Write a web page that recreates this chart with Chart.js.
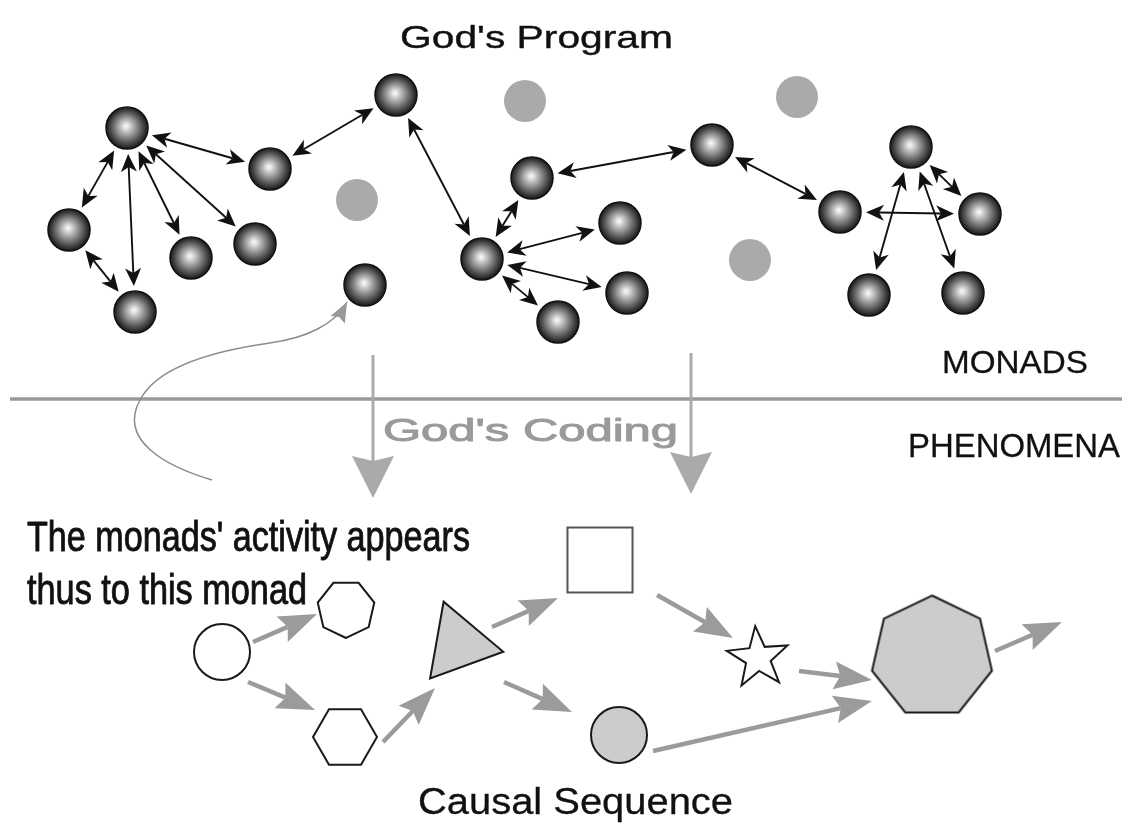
<!DOCTYPE html>
<html lang="en">
<head>
  <meta charset="UTF-8">
  <title>God's Program</title>
  <script src="https://cdn.jsdelivr.net/npm/chart.js@4"></script>
  <style>
    html, body { margin: 0; padding: 0; background: #fff; overflow: hidden; }
    #wrap { width: 1133px; height: 825px; }
  </style>
</head>
<body>
<div id="wrap"><canvas id="monads" width="1133" height="825"></canvas></div>
<script>
// monads in the upper realm (A..S)
const monadX = [127, 270, 396, 69, 191, 255, 135, 365, 532, 482, 620, 627, 558, 712, 840, 911, 980, 869, 963];
const monadY = [128, 169, 95, 230, 258, 244, 312, 285, 178, 259, 223, 293, 322, 145, 212, 147, 214, 295, 293];

// two-way links between monads (indexes into the arrays above)
const linkFrom = [0, 1, 2, 0, 0, 0, 0, 3, 8, 8, 9, 9, 9, 13, 14, 15, 15, 15];
const linkTo   = [1, 2, 9, 3, 6, 4, 5, 6, 9, 13, 10, 11, 12, 14, 16, 17, 18, 16];

// pale, unlinked monads
const ghostX = [525, 797, 357, 750];
const ghostY = [101, 97, 200, 260];

// phenomena shapes of the causal sequence
const shapeNames = ['circle', 'small heptagon', 'hexagon', 'triangle', 'square', 'star', 'disc', 'heptagon'];
const shapeX = [222, 346, 345, 459, 600, 758, 619, 932];
const shapeY = [652, 609, 737, 644, 560, 658, 735, 657];

// causal arrows between the shapes
const flowX0 = [253, 248, 383, 492, 504, 657, 799, 653, 995];
const flowY0 = [642, 682, 742, 627, 682, 595, 671, 751, 651];
const flowX1 = [317, 315, 435, 558, 572, 733, 872, 872, 1062];
const flowY1 = [614, 710, 688, 598, 712, 638, 680, 701, 622];

// "God's Coding" arrows going down through the divider
const codingX = [373, 691];
const codingTop = [355, 353];
const codingTip = [498, 494];
const dividerY = 399;

// thin curved arrow from the caption up to one monad (bezier points)
const curveX = [212, 165, 118, 140, 158, 220, 270, 305, 335, 347];
const curveY = [480, 466, 440, 400, 365, 350, 343, 338, 325, 302];

const labels = [
  { text: "God's Program", x: 400, y: 48, w: 273, size: 32, color: '#111', bold: 0.4 },
  { text: 'MONADS', x: 942, y: 373, w: 146, size: 32, color: '#111', bold: 0.3 },
  { text: 'PHENOMENA', x: 908, y: 457, w: 212, size: 33, color: '#111', bold: 0.3 },
  { text: "God's Coding", x: 383, y: 441, w: 295, size: 32, color: '#9a9a9a', bold: 1 },
  { text: "The monads' activity appears", x: 27, y: 551, w: 443, size: 43, color: '#111', bold: 0.9 },
  { text: 'thus to this monad', x: 27, y: 604, w: 280, size: 43, color: '#111', bold: 0.9 },
  { text: 'Causal Sequence', x: 418, y: 814, w: 315, size: 36, color: '#111', bold: 0.3 }
];

const shapeStyles = [
  { kind: 'circle', r: 28, fill: '#fff' },
  { kind: 'poly', n: 7, r: 29, rot: 90, fill: '#fff' },
  { kind: 'poly', n: 6, r: 32, rot: 0, fill: '#fff' },
  { kind: 'poly', n: 3, r: 45, rot: 10, fill: '#cccccc' },
  { kind: 'poly', n: 4, r: 46, rot: 45, fill: '#fff', stroke: '#555' },
  { kind: 'star', r: 32, inner: 13, rot: -95, fill: '#fff' },
  { kind: 'circle', r: 28, fill: '#cccccc' },
  { kind: 'poly', n: 7, r: 61.5, rot: -90, fill: '#cccccc' }
];

const FONT = '"Liberation Sans", Arial, Helvetica, sans-serif';

function makeSphere(r) {
  const c = document.createElement('canvas');
  c.width = c.height = 2 * r + 4;
  const g = c.getContext('2d');
  const m = r + 2;
  const grad = g.createRadialGradient(m - 1, m - 2, 1, m, m, r);
  grad.addColorStop(0, '#f4f4f4');
  grad.addColorStop(0.3, '#b0b0b0');
  grad.addColorStop(0.7, '#575757');
  grad.addColorStop(1, '#181818');
  g.fillStyle = grad;
  g.beginPath();
  g.arc(m, m, r, 0, Math.PI * 2);
  g.fill();
  g.lineWidth = 1.5;
  g.strokeStyle = '#111';
  g.stroke();
  return c;
}

function makeShape(s) {
  const c = document.createElement('canvas');
  c.width = c.height = Math.ceil(2 * s.r + 6);
  const g = c.getContext('2d');
  const m = c.width / 2;
  g.beginPath();
  if (s.kind === 'circle') {
    g.arc(m, m, s.r, 0, Math.PI * 2);
  } else if (s.kind === 'star') {
    for (let k = 0; k < 10; k++) {
      const a = (s.rot + k * 36) * Math.PI / 180;
      const rr = k % 2 ? s.inner : s.r;
      g.lineTo(m + rr * Math.cos(a), m + rr * Math.sin(a));
    }
    g.closePath();
  } else {
    for (let k = 0; k < s.n; k++) {
      const a = (s.rot + k * 360 / s.n) * Math.PI / 180;
      g.lineTo(m + s.r * Math.cos(a), m + s.r * Math.sin(a));
    }
    g.closePath();
  }
  g.fillStyle = s.fill;
  g.fill();
  g.lineWidth = 2;
  g.lineJoin = 'miter';
  g.strokeStyle = s.stroke || '#1a1a1a';
  g.stroke();
  return c;
}

function head(ctx, x0, y0, x1, y1, len, half, notch) {
  const a = Math.atan2(y1 - y0, x1 - x0);
  ctx.save();
  ctx.translate(x1, y1);
  ctx.rotate(a);
  ctx.beginPath();
  ctx.moveTo(0, 0);
  ctx.lineTo(-len, -half);
  ctx.lineTo(-len + notch, 0);
  ctx.lineTo(-len, half);
  ctx.closePath();
  ctx.fill();
  ctx.restore();
}

function arrow(ctx, x0, y0, x1, y1, o) {
  const d = Math.hypot(x1 - x0, y1 - y0);
  const ux = (x1 - x0) / d, uy = (y1 - y0) / d;
  const back = o.len - o.notch;
  const sx = o.both ? x0 + ux * back : x0, sy = o.both ? y0 + uy * back : y0;
  ctx.beginPath();
  ctx.moveTo(sx, sy);
  ctx.lineTo(x1 - ux * back, y1 - uy * back);
  ctx.stroke();
  head(ctx, x0, y0, x1, y1, o.len, o.half, o.notch);
  if (o.both) head(ctx, x1, y1, x0, y0, o.len, o.half, o.notch);
}

const diagramPlugin = {
  id: 'diagram',
  beforeDatasetsDraw(chart) {
    const ctx = chart.ctx;
    const X = v => chart.scales.x.getPixelForValue(v);
    const Y = v => chart.scales.y.getPixelForValue(v);
    ctx.save();
    // divider between monads and phenomena
    ctx.strokeStyle = '#999';
    ctx.lineWidth = 3.5;
    ctx.beginPath();
    ctx.moveTo(X(10), Y(dividerY));
    ctx.lineTo(X(1122), Y(dividerY));
    ctx.stroke();
    // God's coding arrows
    ctx.strokeStyle = '#aaa';
    ctx.fillStyle = '#aaa';
    ctx.lineWidth = 3;
    codingX.forEach((x, i) => {
      arrow(ctx, X(x), Y(codingTop[i]), X(x), Y(codingTip[i]), { len: 42, half: 21, notch: 5 });
    });
    ctx.restore();
  },
  afterDatasetsDraw(chart) {
    const ctx = chart.ctx;
    const X = v => chart.scales.x.getPixelForValue(v);
    const Y = v => chart.scales.y.getPixelForValue(v);
    ctx.save();
    // links between monads, trimmed to leave a gap around each sphere
    ctx.strokeStyle = '#111';
    ctx.fillStyle = '#111';
    ctx.lineWidth = 1.9;
    linkFrom.forEach((a, i) => {
      const b = linkTo[i];
      const ax = X(monadX[a]), ay = Y(monadY[a]);
      const bx = X(monadX[b]), by = Y(monadY[b]);
      const d = Math.hypot(bx - ax, by - ay);
      const ux = (bx - ax) / d, uy = (by - ay) / d;
      const gap = 26;
      arrow(ctx, ax + ux * gap, ay + uy * gap, bx - ux * gap, by - uy * gap,
        { len: 18, half: 8, notch: 5, both: true });
    });
    // causal arrows
    ctx.strokeStyle = '#9b9b9b';
    ctx.fillStyle = '#9b9b9b';
    ctx.lineWidth = 4.5;
    flowX0.forEach((x, i) => {
      arrow(ctx, X(x), Y(flowY0[i]), X(flowX1[i]), Y(flowY1[i]), { len: 38, half: 14, notch: 6 });
    });
    // curved pointer
    ctx.strokeStyle = '#8c8c8c';
    ctx.fillStyle = '#999';
    ctx.lineWidth = 1.5;
    ctx.beginPath();
    ctx.moveTo(X(curveX[0]), Y(curveY[0]));
    for (let k = 1; k + 2 < curveX.length; k += 3) {
      ctx.bezierCurveTo(X(curveX[k]), Y(curveY[k]), X(curveX[k + 1]), Y(curveY[k + 1]),
        X(curveX[k + 2]), Y(curveY[k + 2]));
    }
    ctx.stroke();
    const n = curveX.length;
    head(ctx, X(curveX[n - 2]), Y(curveY[n - 2]), X(curveX[n - 1]), Y(curveY[n - 1]), 20, 8, 3);
    // texts
    ctx.textAlign = 'left';
    ctx.textBaseline = 'alphabetic';
    labels.forEach(l => {
      ctx.font = l.size + 'px ' + FONT;
      const w = ctx.measureText(l.text).width;
      ctx.save();
      ctx.translate(X(l.x), Y(l.y));
      ctx.scale(l.w / w, 1);
      ctx.fillStyle = l.color;
      ctx.fillText(l.text, 0, 0);
      if (l.bold) {
        ctx.strokeStyle = l.color;
        ctx.lineWidth = l.bold;
        ctx.lineJoin = 'round';
        ctx.strokeText(l.text, 0, 0);
      }
      ctx.restore();
    });
    ctx.restore();
  }
};

const sphere = makeSphere(21);
const shapeCanvases = shapeStyles.map(makeShape);

new Chart(document.getElementById('monads'), {
  type: 'scatter',
  data: {
    datasets: [
      {
        label: 'Monads',
        data: monadX.map((x, i) => ({ x: x, y: monadY[i] })),
        pointStyle: sphere,
        pointRadius: 21
      },
      {
        label: 'Unlinked monads',
        data: ghostX.map((x, i) => ({ x: x, y: ghostY[i] })),
        pointStyle: 'circle',
        pointRadius: 21,
        pointBackgroundColor: '#aaaaaa',
        pointBorderWidth: 0
      },
      {
        label: 'Phenomena',
        data: shapeX.map((x, i) => ({ x: x, y: shapeY[i], name: shapeNames[i] })),
        pointStyle: shapeCanvases,
        pointRadius: 30
      }
    ]
  },
  options: {
    responsive: false,
    animation: false,
    devicePixelRatio: 1,
    events: [],
    layout: { padding: 0, autoPadding: false },
    scales: {
      x: { type: 'linear', min: 0, max: 1133, display: false },
      y: { type: 'linear', min: 0, max: 825, reverse: true, display: false }
    },
    plugins: {
      legend: { display: false },
      tooltip: { enabled: false }
    }
  },
  plugins: [diagramPlugin]
});
</script>
</body>
</html>
